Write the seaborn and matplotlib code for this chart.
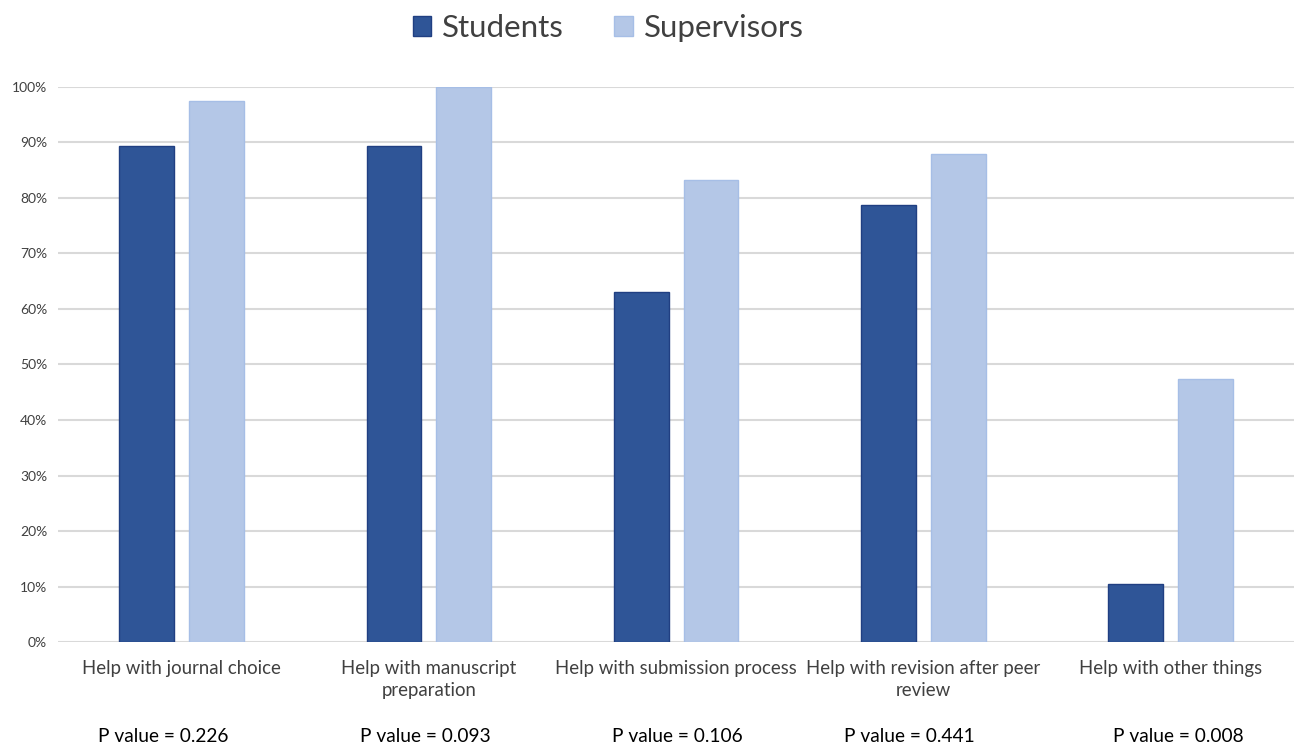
import pandas as pd
import matplotlib.pyplot as plt
import matplotlib.transforms as mtransforms
from matplotlib.patches import Patch
import seaborn as sns

# data
categories = ['Help with journal choice', 'Help with manuscript\npreparation',
              'Help with submission process', 'Help with revision after peer\nreview',
              'Help with other things']
students = [89.4, 89.4, 63.1, 78.7, 10.5]
supervisors = [97.5, 100.0, 83.2, 87.9, 47.4]
p_values = ['0.226', '0.093', '0.106', '0.441', '0.008']
# the p value boxes are not quite centred under each category
p_shift = [-0.076, -0.014, 0.004, -0.055, 0.031]

df = pd.DataFrame({
    'category': categories * 2,
    'group': ['Students'] * 5 + ['Supervisors'] * 5,
    'value': students + supervisors,
})

sns.set_style('white')
plt.rcParams['font.family'] = ['Lato', 'DejaVu Sans']
text_col = '#404040'

fig = plt.figure(figsize=(12.94, 7.46), dpi=100)
ax = fig.add_axes([0.045, 0.1394, 0.955, 0.744])

palette = {'Students': '#2F5597', 'Supervisors': '#B4C7E7'}
sns.barplot(data=df, x='category', y='value', hue='group', palette=palette,
            width=0.565, gap=0.215, ax=ax, legend=False, saturation=1, zorder=3)
edges = ['#203F82', '#A6BEE6']
for cont, ec in zip(ax.containers, edges):
    for b in cont:
        b.set_edgecolor(ec)
        b.set_linewidth(1)

ax.set_ylim(0, 100)
ax.set_xlim(-0.5, 4.5)
ax.set_yticks(range(0, 101, 10))
ax.set_yticklabels([f'{v}%' for v in range(0, 101, 10)], fontsize=10, color=text_col)
ax.tick_params(axis='x', labelsize=13.4, labelcolor=text_col, length=0, pad=13)
for lab in ax.get_xticklabels():
    lab.set_linespacing(1.35)
ax.tick_params(axis='y', length=0, pad=8)
ax.yaxis.grid(True, color='#D9D9D9', linewidth=1.5, zorder=0)
ax.set_axisbelow(True)
for s in ax.spines.values():
    s.set_visible(False)
ax.set_xlabel('')
ax.set_ylabel('')

trans = mtransforms.blended_transform_factory(ax.transData, ax.transAxes)
for i, (p, dx) in enumerate(zip(p_values, p_shift)):
    ax.text(i + dx, -0.171, f'P value = {p}', transform=trans, ha='center', va='center',
            fontsize=13.8, color='black')

# legend at the top
handles = [Patch(facecolor=palette[k], edgecolor=e) for k, e in zip(palette, edges)]
fig.legend(handles, list(palette), loc='center', bbox_to_anchor=(0.47, 0.963), ncol=2,
           frameon=False, fontsize=22.5, labelcolor=text_col, handlelength=0.6,
           handleheight=0.6, columnspacing=1.6, handletextpad=0.35)

fig.savefig('out.png', dpi=100)
